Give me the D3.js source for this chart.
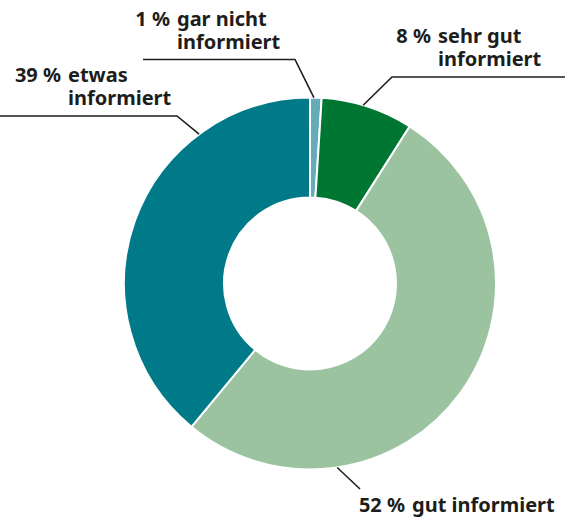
<!DOCTYPE html>
<html lang="de">
  <head>
    <meta charset="UTF-8" />
    <title>Informiertheit</title>
    <script src="https://d3js.org/d3.v7.min.js"></script>
    <style>
      html, body { margin: 0; padding: 0; background: #fff; }
      svg text { font-family: "Noto Sans", "Open Sans", sans-serif; font-weight: 700; fill: #1d1d1b; }
    </style>
  </head>
  <body>
    <svg id="donut" width="565" height="517"></svg>

    <script>
      // data, clockwise from the top
      const categories = ["gar nicht informiert", "sehr gut informiert", "gut informiert", "etwas informiert"];
      const values = [1, 8, 52, 39];
      const colors = ["#65abb9", "#007633", "#9bc3a0", "#007a88"];
      // label text: first line (after the percent) and following lines
      const labelLines = [
        ["gar nicht", "informiert"],
        ["sehr gut", "informiert"],
        ["gut informiert"],
        ["etwas", "informiert"],
      ];

      // label layout: angle on the ring where the leader starts (deg),
      // elbow point, end of horizontal rule, text indent x and first baseline
      const labelLayout = [
        { angle: 1.2, elbow: [295, 59.5], ruleTo: 143, x: 177, y: 26 },
        { angle: 16.6, elbow: [392, 77], ruleTo: 565, x: 438, y: 43 },
        { angle: 171.6, elbow: [360, 489], ruleTo: null, x: 412, y: 511.5 },
        { angle: 323.4, elbow: [177, 116], ruleTo: 0, x: 68, y: 82 },
      ];

      const svg = d3.select("#donut"),
        cx = 310,
        cy = 283.5,
        outerR = 186,
        innerR = 86,
        lineH = 23,
        fontSize = 20;

      const chart = svg.append("g").attr("transform", `translate(${cx},${cy})`);

      const pie = d3.pie().sort(null).value((d) => d);
      const arc = d3.arc().innerRadius(innerR).outerRadius(outerR);

      chart
        .selectAll("path")
        .data(pie(values))
        .enter()
        .append("path")
        .attr("d", arc)
        .attr("fill", (d, i) => colors[i])
        .attr("stroke", "#fff")
        .attr("stroke-width", 2);

      // leader lines
      labelLayout.forEach((l) => {
        const a = (l.angle * Math.PI) / 180;
        const p0 = [cx + outerR * Math.sin(a), cy - outerR * Math.cos(a)];
        const pts = [p0, l.elbow];
        if (l.ruleTo !== null) pts.push([l.ruleTo, l.elbow[1]]);
        svg
          .append("path")
          .attr("d", d3.line()(pts))
          .attr("fill", "none")
          .attr("stroke", "#1d1d1b")
          .attr("stroke-width", 1.6);
      });

      // labels with hanging indent after the percentage
      labelLayout.forEach((l, i) => {
        const t = svg
          .append("text")
          .attr("y", l.y)
          .attr("font-size", fontSize);

        const pre = t.append("tspan").attr("y", l.y).text(values[i] + " %");
        const w = pre.node().getComputedTextLength();
        pre.attr("x", l.x - 7 - w);

        labelLines[i].forEach((s, j) => {
          t.append("tspan")
            .attr("x", l.x)
            .attr("y", l.y + j * lineH)
            .text(s);
        });
      });
    </script>
  </body>
</html>
